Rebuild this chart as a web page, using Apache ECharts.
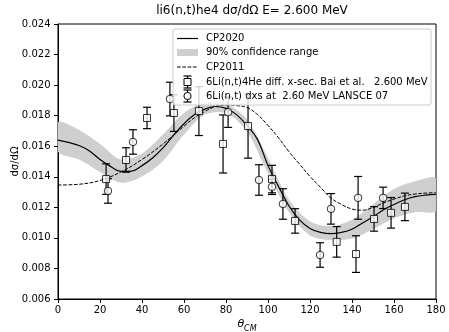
<!DOCTYPE html>
<html><head><meta charset="utf-8">
<script src="https://cdn.jsdelivr.net/npm/echarts@6/dist/echarts.min.js"></script>
<style>html,body{margin:0;padding:0;background:#fff}#c{width:449px;height:332px}</style>
</head><body><div id="c"></div>
<script>
// ---- data ----
const cp2020X = [0,5,10,15,20,25,30,35,40,45,50,55,60,65,70,75,80,85,90,95,100,105,110,115,120,125,130,135,140,145,150,155,160,165,170,175,180];
const cp2020Y = [0.01640,0.01625,0.01605,0.01569,0.01513,0.01468,0.01435,0.01437,0.01473,0.01523,0.01589,0.01671,0.01747,0.01807,0.01843,0.01860,0.01848,0.01807,0.01736,0.01645,0.01473,0.01337,0.01209,0.01118,0.01062,0.01036,0.01028,0.01036,0.01057,0.01097,0.01138,0.01184,0.01219,0.01250,0.01270,0.01280,0.01285];
const cp2011X = [0,10,20,30,40,50,60,65,70,75,80,85,90,95,100,105,110,115,120,125,130,135,140,145,150,155,160,165,170,175,180];
const cp2011Y = [0.01346,0.01351,0.01376,0.01432,0.01513,0.01615,0.01731,0.01787,0.01828,0.01860,0.01870,0.01866,0.01853,0.01807,0.01736,0.01655,0.01564,0.01483,0.01402,0.01331,0.01260,0.01219,0.01189,0.01181,0.01199,0.01229,0.01254,0.01275,0.01287,0.01293,0.01296];
const bandX  = [0,10,20,30,40,50,60,70,80,90,100,110,120,130,140,150,160,170,180];
const bandLo = [0.01564,0.01513,0.01432,0.01361,0.01402,0.01503,0.01676,0.01807,0.01817,0.01696,0.01422,0.01168,0.01016,0.00986,0.00996,0.01057,0.01128,0.01168,0.01178];
const bandHi = [0.01757,0.01706,0.01615,0.01513,0.01553,0.01676,0.01817,0.01889,0.01878,0.01776,0.01523,0.01249,0.01108,0.01078,0.01119,0.01219,0.01320,0.01370,0.01390];
const baiX   = [22.9,32.4,42.4,55.2,67.1,78.6,90.5,101.9,112.9,132.7,141.9,150.5,158.6,165.2];
const baiY   = [0.01385,0.01510,0.01785,0.01817,0.01830,0.01615,0.01732,0.01385,0.01111,0.00974,0.00894,0.01124,0.01164,0.01203];
const baiErr = [0.0010,0.0008,0.0007,0.0012,0.0016,0.0019,0.0021,0.0009,0.0008,0.0010,0.0012,0.0008,0.0010,0.0009];
const lanX   = [23.8,35.7,53.3,81.0,95.7,101.9,107.1,124.8,130.0,142.9,154.8];
const lanY   = [0.01307,0.01628,0.01909,0.01823,0.01379,0.01334,0.01222,0.00888,0.01190,0.01262,0.01262];
const lanErr = [0.0008,0.0008,0.0011,0.0010,0.0010,0.0005,0.0010,0.0008,0.0010,0.0014,0.0007];
const xTicks = {min:0, max:180, interval:20};
const yTicks = {min:0.006, max:0.024, interval:0.002};
const titleText = 'li6(n,t)he4 dσ/dΩ E= 2.600 MeV';
const legendTexts = ['CP2020','90% confidence range','CP2011','6Li(n,t)4He diff. x-sec. Bai et al.   2.600 MeV','6Li(n,t) dxs at  2.60 MeV LANSCE 07'];

const FONT = 'DejaVu Sans';
const chart = echarts.init(document.getElementById('c'), null, {renderer:'canvas'});

function errRender(xs, ys, es) {
  return function(params, api) {
    const i = params.dataIndex;
    const p0 = api.coord([xs[i], ys[i] - es[i]]);
    const p1 = api.coord([xs[i], ys[i] + es[i]]);
    const cw = 4;
    const st = {stroke:'#000', lineWidth:1.2};
    return {type:'group', children:[
      {type:'line', shape:{x1:p0[0],y1:p0[1],x2:p1[0],y2:p1[1]}, style:st},
      {type:'line', shape:{x1:p0[0]-cw,y1:p0[1],x2:p0[0]+cw,y2:p0[1]}, style:st},
      {type:'line', shape:{x1:p1[0]-cw,y1:p1[1],x2:p1[0]+cw,y2:p1[1]}, style:st}
    ]};
  };
}

function bandRender(params, api) {
  if (params.dataIndex !== 0) return null;
  const pts = [];
  for (let i = 0; i < bandX.length; i++) pts.push(api.coord([bandX[i], bandLo[i]]));
  for (let i = bandX.length - 1; i >= 0; i--) pts.push(api.coord([bandX[i], bandHi[i]]));
  return {type:'polygon', shape:{points:pts, smooth:0.3}, style:{fill:'#cfcfcf', stroke:null}};
}

// legend graphic
const LX = 173, LY = 29, LW = 258, LH = 76;
const rowY = [38.5, 52.5, 67, 82, 96];
const ix0 = 177, ix1 = 198, icx = 187.5, tx = 206;
const g = [
  {type:'rect', shape:{x:LX, y:LY, width:LW, height:LH, r:2}, style:{fill:'rgba(255,255,255,0.8)', stroke:'#cccccc', lineWidth:1}, z:100},
  {type:'line', shape:{x1:ix0,y1:rowY[0],x2:ix1,y2:rowY[0]}, style:{stroke:'#000', lineWidth:1.2}, z:101},
  {type:'rect', shape:{x:ix0, y:rowY[1]-3.5, width:ix1-ix0, height:7}, style:{fill:'#cfcfcf'}, z:101},
  {type:'line', shape:{x1:ix0,y1:rowY[2],x2:ix1,y2:rowY[2]}, style:{stroke:'#000', lineWidth:1, lineDash:[3.7,1.6]}, z:101},
  {type:'line', shape:{x1:icx,y1:rowY[3]-6,x2:icx,y2:rowY[3]+6}, style:{stroke:'#000', lineWidth:1.2}, z:101},
  {type:'line', shape:{x1:icx-4,y1:rowY[3]-6,x2:icx+4,y2:rowY[3]-6}, style:{stroke:'#000', lineWidth:1.2}, z:101},
  {type:'line', shape:{x1:icx-4,y1:rowY[3]+6,x2:icx+4,y2:rowY[3]+6}, style:{stroke:'#000', lineWidth:1.2}, z:101},
  {type:'rect', shape:{x:icx-3.5, y:rowY[3]-3.5, width:7, height:7}, style:{fill:'#fff', stroke:'#000', lineWidth:1}, z:102},
  {type:'line', shape:{x1:icx,y1:rowY[4]-6,x2:icx,y2:rowY[4]+6}, style:{stroke:'#000', lineWidth:1.2}, z:101},
  {type:'line', shape:{x1:icx-4,y1:rowY[4]-6,x2:icx+4,y2:rowY[4]-6}, style:{stroke:'#000', lineWidth:1.2}, z:101},
  {type:'line', shape:{x1:icx-4,y1:rowY[4]+6,x2:icx+4,y2:rowY[4]+6}, style:{stroke:'#000', lineWidth:1.2}, z:101},
  {type:'circle', shape:{cx:icx, cy:rowY[4], r:3.6}, style:{fill:'#fff', stroke:'#000', lineWidth:1}, z:102}
];
legendTexts.forEach((t, i) => g.push({type:'text', x:tx, y:rowY[i], style:{text:t, font:'10px "' + FONT + '"', fill:'#000', verticalAlign:'middle', textAlign:'left'}, z:102}));

const option = {
  animation:false,
  backgroundColor:'#fff',
  textStyle:{fontFamily:FONT},
  title:{text:titleText, left:247, textAlign:'center', top:0, textStyle:{fontFamily:FONT, fontSize:12, fontWeight:'normal', color:'#000'}},
  grid:{left:58, right:13, top:24, bottom:33, outerBoundsMode:'none', containLabel:false, show:true, borderColor:'#000', borderWidth:1, backgroundColor:'transparent'},
  xAxis:{type:'value', min:xTicks.min, max:xTicks.max, interval:xTicks.interval,
    axisLine:{lineStyle:{color:'#000', width:1}}, axisTick:{length:4, lineStyle:{color:'#000'}},
    axisLabel:{color:'#000', fontSize:10, fontFamily:FONT, margin:6}, splitLine:{show:false},
    name:'{a|θ}{b|CM}', nameLocation:'middle', nameGap:20, nameMoveOverlap:false,
    nameTextStyle:{rich:{a:{fontSize:11, fontStyle:'italic', fontFamily:FONT, color:'#000', verticalAlign:'bottom'}, b:{fontSize:8, fontStyle:'italic', fontFamily:FONT, color:'#000', verticalAlign:'bottom', padding:[0,0,-3,0]}}}},
  yAxis:{type:'value', min:yTicks.min, max:yTicks.max, interval:yTicks.interval,
    axisLine:{show:true, lineStyle:{color:'#000', width:1}}, axisTick:{show:true, length:4, lineStyle:{color:'#000'}},
    axisLabel:{color:'#000', fontSize:10, fontFamily:FONT, margin:7.5, formatter:v => v.toFixed(3)}, splitLine:{show:false},
    name:'dσ/dΩ', nameLocation:'middle', nameGap:38, nameMoveOverlap:false, nameTextStyle:{fontSize:10, fontFamily:FONT, color:'#000'}},
  graphic:g,
  series:[
    {type:'custom', renderItem:bandRender, data:[[0,0]], clip:true, z:1, silent:true},
    {type:'line', data:cp2011X.map((x,i)=>[x,cp2011Y[i]]), smooth:0.4, showSymbol:false, lineStyle:{color:'#000', width:1, type:[3.7,1.6]}, z:2},
    {type:'line', data:cp2020X.map((x,i)=>[x,cp2020Y[i]]), smooth:0.4, showSymbol:false, lineStyle:{color:'#000', width:1.2}, z:3},
    {type:'custom', renderItem:errRender(baiX, baiY, baiErr), data:baiX.map((x,i)=>[x,baiY[i]]), z:4},
    {type:'custom', renderItem:errRender(lanX, lanY, lanErr), data:lanX.map((x,i)=>[x,lanY[i]]), z:4},
    {type:'scatter', data:baiX.map((x,i)=>[x,baiY[i]]), symbol:'rect', symbolSize:7, itemStyle:{color:'#fff', borderColor:'#000', borderWidth:1}, z:5},
    {type:'scatter', data:lanX.map((x,i)=>[x,lanY[i]]), symbol:'circle', symbolSize:7.5, itemStyle:{color:'#fff', borderColor:'#000', borderWidth:1}, z:5}
  ]
};
chart.setOption(option);
</script></body></html>
